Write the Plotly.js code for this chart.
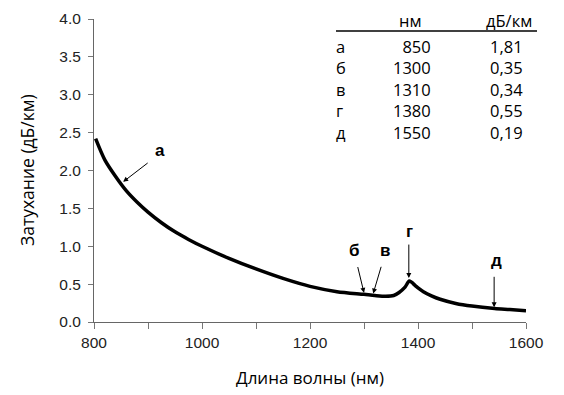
<!DOCTYPE html>
<html>
<head>
<meta charset="utf-8">
<script src="https://cdn.plot.ly/plotly-3.0.1.min.js"></script>
<style>html,body{margin:0;padding:0;background:#fff;}#chart{width:564px;height:395px;}</style>
</head>
<body>
<div id="chart"></div>
<script>
// Attenuation curve
const wavelength = [803, 820, 840, 860, 880, 900, 925, 950, 975, 1000, 1050, 1100, 1150, 1200, 1250, 1300, 1320, 1340, 1355, 1365, 1376, 1384, 1395, 1400, 1410, 1425, 1441, 1470, 1500, 1542, 1570, 1600];
const attenuation = [2.42, 2.14, 1.92, 1.73, 1.58, 1.45, 1.31, 1.19, 1.09, 1.00, 0.84, 0.70, 0.575, 0.47, 0.40, 0.365, 0.35, 0.34, 0.35, 0.39, 0.46, 0.54, 0.48, 0.45, 0.40, 0.345, 0.30, 0.245, 0.21, 0.178, 0.165, 0.15];

// Table
const tableLetters = ['а', 'б', 'в', 'г', 'д'];
const tableNm = ['850', '1300', '1310', '1380', '1550'];
const tableDb = ['1,81', '0,35', '0,34', '0,55', '0,19'];
const tableHeader = ['нм', 'дБ/км'];

// Axis ticks
const xTickVals = [800, 900, 1000, 1100, 1200, 1300, 1400, 1500, 1600];
const xTickText = ['800', '', '1000', '', '1200', '', '1400', '', '1600'];
const yTickVals = [0, 0.5, 1, 1.5, 2, 2.5, 3, 3.5, 4];
const yTickText = ['0.0', '0.5', '1.0', '1.5', '2.0', '2.5', '3.0', '3.5', '4.0'];

// Arrow markers on the curve
const arrowLetters = ['а', 'б', 'в', 'г', 'д'];
const arrowTipX = [854, 1300, 1317, 1383, 1541];
const arrowTipY = [1.85, 0.385, 0.375, 0.58, 0.194];

const W = 564, H = 395, L = 94, R = 38, T = 19, B = 73;
const pw = W - L - R, ph = H - T - B;
const px = x => (x - L) / pw;
const py = y => (H - B - y) / ph;

const annotations = [];
const arrowOff = [[26, -20], [-6.6, -27.3], [8.4, -28.3], [0, -35], [0, -32]];
const labelPos = [[160, 150], [354, 250], [385, 250], [409, 231], [496, 260]];
const labFont = {family: 'Liberation Sans, Arial, sans-serif', size: 17, color: '#000', weight: 'bold'};
for (let i = 0; i < arrowLetters.length; i++) {
  annotations.push({x: arrowTipX[i], y: arrowTipY[i], xref: 'x', yref: 'y', text: '', showarrow: true,
    ax: arrowOff[i][0], ay: arrowOff[i][1], arrowhead: 2, arrowsize: 1, arrowwidth: 1, arrowcolor: '#000'});
  annotations.push({x: px(labelPos[i][0]), y: py(labelPos[i][1]), xref: 'paper', yref: 'paper', text: arrowLetters[i],
    showarrow: false, xanchor: 'center', yanchor: 'middle', font: labFont});
}

// Table block: one annotation per column (rows joined with line breaks)
const tFont = {family: 'Open Sans, sans-serif', size: 16.5, color: '#000'};
const tableMidY = 89;
annotations.push({x: px(410.5), y: py(20.5), xref: 'paper', yref: 'paper', text: tableHeader[0], showarrow: false, xanchor: 'center', yanchor: 'middle', font: tFont});
annotations.push({x: px(508.5), y: py(20.5), xref: 'paper', yref: 'paper', text: tableHeader[1], showarrow: false, xanchor: 'center', yanchor: 'middle', font: tFont});
annotations.push({x: px(334), y: py(tableMidY), xref: 'paper', yref: 'paper', text: tableLetters.join('<br>'), showarrow: false, xanchor: 'left', yanchor: 'middle', align: 'left', font: tFont});
annotations.push({x: px(433), y: py(tableMidY), xref: 'paper', yref: 'paper', text: tableNm.join('<br>'), showarrow: false, xanchor: 'right', yanchor: 'middle', align: 'right', font: tFont});
annotations.push({x: px(525), y: py(tableMidY), xref: 'paper', yref: 'paper', text: tableDb.join('<br>'), showarrow: false, xanchor: 'right', yanchor: 'middle', align: 'right', font: tFont});

// Axis titles
const titleFont = {family: 'Open Sans, sans-serif', size: 17, color: '#000'};
annotations.push({x: px(310), y: py(377), xref: 'paper', yref: 'paper', text: 'Длина волны (нм)', showarrow: false, xanchor: 'center', yanchor: 'middle', font: titleFont});
annotations.push({x: px(27), y: py(170), xref: 'paper', yref: 'paper', text: 'Затухание (дБ/км)', showarrow: false, xanchor: 'center', yanchor: 'middle', textangle: -90, font: {family: 'Open Sans, sans-serif', size: 17.5, color: '#000'}});

const data = [{
  x: wavelength, y: attenuation, type: 'scatter', mode: 'lines',
  line: {color: '#000', width: 3.5, shape: 'spline', smoothing: 0.8},
  hoverinfo: 'skip'
}];

const tickFont = {family: 'Liberation Sans, Arial, sans-serif', size: 15.5, color: '#222'};
const layout = {
  width: W, height: H,
  margin: {l: L, r: R, t: T, b: B, pad: 0},
  paper_bgcolor: '#fff', plot_bgcolor: '#fff',
  showlegend: false,
  xaxis: {range: [800, 1600], tickmode: 'array', tickvals: xTickVals, ticktext: xTickText,
    ticks: 'outside', ticklen: 6, tickcolor: '#777', tickwidth: 1,
    showline: true, linecolor: '#666', linewidth: 1, showgrid: false, zeroline: false,
    tickfont: tickFont, fixedrange: true},
  yaxis: {range: [0, 4], tickmode: 'array', tickvals: yTickVals, ticktext: yTickText,
    ticks: 'outside', ticklen: 5, tickcolor: '#777', tickwidth: 1,
    showline: true, linecolor: '#666', linewidth: 1, showgrid: false, zeroline: false,
    tickfont: tickFont, ticklabelstandoff: 4, fixedrange: true},
  shapes: [{type: 'line', xref: 'paper', yref: 'paper', x0: px(336), x1: px(537), y0: py(31), y1: py(31),
    line: {color: '#000', width: 1.5}}],
  annotations: annotations
};

Plotly.newPlot('chart', data, layout, {displayModeBar: false, staticPlot: true});
</script>
</body>
</html>
